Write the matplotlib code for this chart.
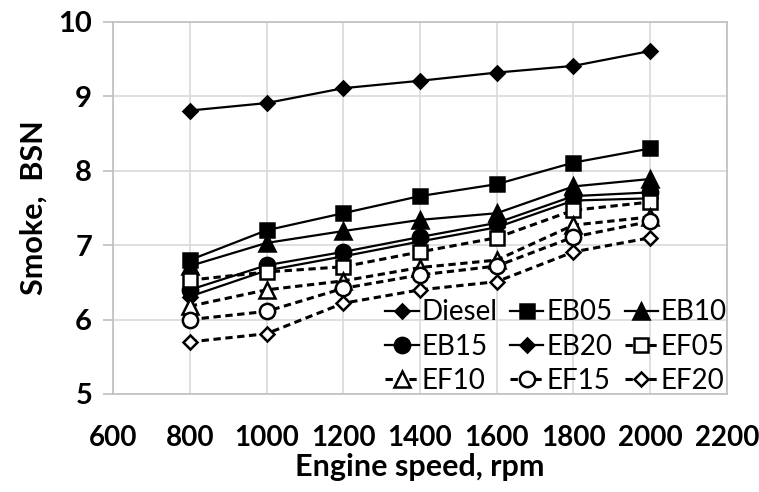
import numpy as np
import matplotlib
matplotlib.use("Agg")
import matplotlib.pyplot as plt

plt.rcParams['font.family'] = ['Lato', 'DejaVu Sans']

# --- data --- #
speed = [800, 1000, 1200, 1400, 1600, 1800, 2000]
diesel = [8.81, 8.91, 9.11, 9.21, 9.32, 9.41, 9.61]
eb05 = [6.80, 7.20, 7.43, 7.66, 7.82, 8.11, 8.30]
eb10 = [6.72, 7.03, 7.19, 7.34, 7.43, 7.79, 7.89]
eb15 = [6.40, 6.73, 6.91, 7.11, 7.30, 7.66, 7.71]
eb20 = [6.31, 6.66, 6.85, 7.05, 7.24, 7.60, 7.63]
ef05 = [6.53, 6.64, 6.71, 6.91, 7.10, 7.47, 7.58]
ef10 = [6.18, 6.40, 6.52, 6.70, 6.80, 7.27, 7.38]
ef15 = [6.00, 6.11, 6.42, 6.60, 6.72, 7.11, 7.32]
ef20 = [5.70, 5.81, 6.22, 6.40, 6.51, 6.91, 7.10]

x_ticks = [600, 800, 1000, 1200, 1400, 1600, 1800, 2000, 2200]
y_ticks = [5, 6, 7, 8, 9, 10]

fig = plt.figure(figsize=(7.59, 4.92), dpi=100)
fig.subplots_adjust(left=0.1489, right=0.9578, top=0.9553, bottom=0.1992)
ax = fig.add_subplot(111)

# (label, values, marker, filled, dashed, size)
series = [
    ('Diesel', diesel, 'D', True, False, 7.5),
    ('EB05', eb05, 's', True, False, 10),
    ('EB10', eb10, '^', True, False, 11),
    ('EB15', eb15, 'o', True, False, 11),
    ('EB20', eb20, 'D', True, False, 7.5),
    ('EF05', ef05, 's', False, True, 10),
    ('EF10', ef10, '^', False, True, 11),
    ('EF15', ef15, 'o', False, True, 11),
    ('EF20', ef20, 'D', False, True, 7.5),
]

handles = []
for label, vals, mk, filled, dashed, ms in series:
    line, = ax.plot(speed, vals, color='black', lw=2.2 if dashed else 1.6,
                    marker=mk, ms=ms, mfc='black' if filled else 'white',
                    mec='black', mew=1.8, label=label, zorder=3)
    if dashed:
        line.set_dashes((2.4, 1.5))
    handles.append(line)

ax.set_xlim(600, 2200)
ax.set_ylim(5, 10)
ax.set_xticks(x_ticks)
ax.set_yticks(y_ticks)
ax.grid(True, color='#d9d9d9', lw=1.2, zorder=0)
ax.set_axisbelow(True)
for s in ax.spines.values():
    s.set_color('#bfbfbf')
    s.set_linewidth(1.2)

ax.tick_params(axis='x', length=0, pad=22, labelsize=20)
ax.tick_params(axis='y', length=7, color='#bfbfbf', width=1.2, pad=8, labelsize=21)
for t in ax.get_xticklabels() + ax.get_yticklabels():
    t.set_fontweight('bold')

ax.set_xlabel('Engine speed, rpm', fontsize=22, fontweight='bold', labelpad=2)
ax.set_ylabel('Smoke,  BSN', fontsize=22, fontweight='bold', labelpad=8)

# legend is filled row by row in the original
order = [0, 3, 6, 1, 4, 7, 2, 5, 8]
ax.legend([handles[i] for i in order], [series[i][0] for i in order],
          ncol=3, loc='lower right', bbox_to_anchor=(1.0, 0.0), frameon=False,
          fontsize=20, handlelength=1.2, handletextpad=0.1, columnspacing=0.45,
          labelspacing=0.3, borderpad=0.0, borderaxespad=0.0)

fig.savefig('out.png', dpi=100)
